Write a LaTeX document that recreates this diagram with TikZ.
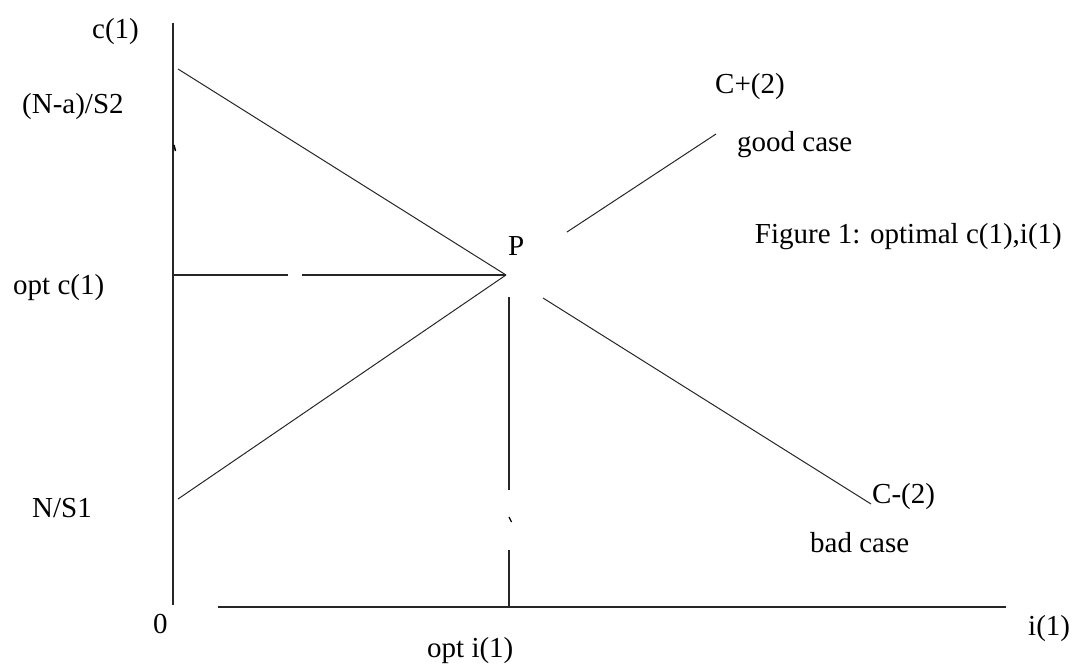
\documentclass[tikz,border=0pt]{standalone}
\usepackage{fontspec}
\setmainfont{Liberation Serif}
\begin{document}
\begin{tikzpicture}[x=1pt,y=-1pt,
  lbl/.style={font=\fontsize{29}{34}\selectfont, inner sep=0pt, anchor=base west},
  axisline/.style={line width=1.8pt, color=black!85},
  guide/.style={line width=1.4pt, color=black!85},
  curve/.style={line width=1pt, color=black!85}]
\useasboundingbox (0,0) rectangle (1075,669);
% axes
\coordinate (ytop) at (173,23);
\coordinate (ybot) at (173,605);
\coordinate (xl) at (218,607);
\coordinate (xr) at (1006,607);
\draw[axisline] (ytop) -- (ybot);
\draw[axisline] (xl) -- (xr);
% point P and lines
\coordinate (P) at (506,275);
\coordinate (u0) at (178,69);
\coordinate (l0) at (178,499);
\coordinate (g0) at (567,232);
\coordinate (g1) at (716,134);
\coordinate (b0) at (543,298);
\coordinate (b1) at (871,504);
\draw[curve] (u0) -- (P);
\draw[curve] (l0) -- (P);
\draw[curve] (g0) -- (g1);
\draw[curve] (b0) -- (b1);
% guide lines
\coordinate (h0) at (173,275);
\coordinate (h1) at (288,275);
\coordinate (h2) at (302,275);
\draw[guide] (h0) -- (h1);
\draw[guide] (h2) -- (P);
\coordinate (v0) at (509,297);
\coordinate (v1) at (509,490);
\coordinate (v2) at (509,550);
\coordinate (v3) at (509,607);
\draw[guide] (v0) -- (v1);
\draw[guide] (v2) -- (v3);
% small marks
\coordinate (t0) at (174,145);
\coordinate (t1) at (175.5,151);
\draw[line width=1.5pt] (t0) -- (t1);
\coordinate (m0) at (509,517);
\coordinate (m1) at (511.5,522);
\draw[line width=1.2pt] (m0) -- (m1);
% labels
\node[lbl] (c1) at (92,38) {c(1)};
\node[lbl] (nas2) at (22,113) {(N-a)/S2};
\node[lbl] (optc) at (13,294) {opt c(1)};
\node[lbl] (ns1) at (32,517) {N/S1};
\node[lbl] (zero) at (153,633) {0};
\node[lbl] (opti) at (427,657) {opt i(1)};
\node[lbl] (i1) at (1028,635) {i(1)};
\node[lbl] (Plbl) at (508,255) {P};
\node[lbl] (cplus) at (715,93) {C+(2)};
\node[lbl] (good) at (737,151) {good case};
\node[lbl, anchor=base east] (fig) at (1062,243) {Figure 1: optimal c(1),i(1)};
\node[lbl] (cminus) at (872,503) {C-(2)};
\node[lbl] (bad) at (810,552) {bad case};
\end{tikzpicture}
\end{document}
